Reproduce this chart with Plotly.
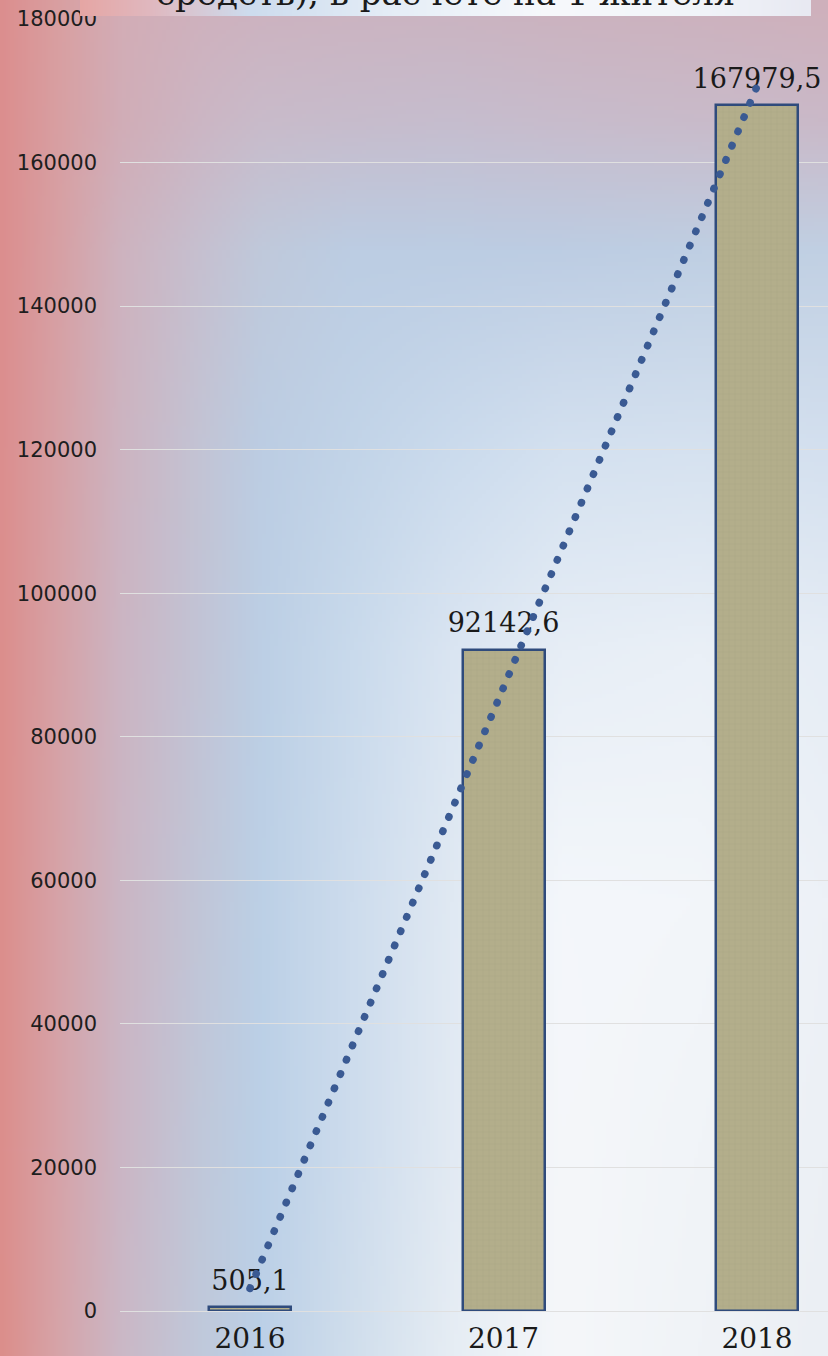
import base64
import struct
import zlib

import numpy as np
import plotly.graph_objects as go

# ---------------- data ----------------
years = ["2016", "2017", "2018"]
values = [505.1, 92142.6, 167979.5]
y_ticks = [0, 20000, 40000, 60000, 80000, 100000, 120000, 140000, 160000, 180000]
title_line = "средств), в расчете на 1 жителя"

W, H = 828, 1356

# ---------------- background gradient (style only) ----------------
bg_xs = [0, 60, 120, 200, 260, 350, 450, 560, 700, 828]
bg_ys = [0, 120, 250, 450, 650, 900, 1150, 1356]
bg_cols = [
    ["#dc8e8e", "#d9a0a2", "#d3adb6", "#cfb1bd", "#cdb2bf", "#ccb3c0", "#cbb3c0", "#ccb2be", "#cdb1bd", "#cfb0bb"],
    ["#dc8e8e", "#d8a0a3", "#d1adb7", "#ccb6c4", "#c9bbca", "#c7bccc", "#c6bdce", "#c8bccc", "#c9bbca", "#cab9c8"],
    ["#dc8e8e", "#d7a1a5", "#ceb3bf", "#c6c0d0", "#c0c9db", "#bccde3", "#bccde3", "#bdcde3", "#bfcfe3", "#c1d0e3"],
    ["#dc8e8e", "#d6a2a7", "#cdb4c1", "#c3c4d5", "#bccde3", "#c2d4e8", "#cbdbed", "#d4e1f0", "#d6e2f0", "#d4e0ef"],
    ["#dc8e8c", "#d6a3a8", "#ccb5c3", "#c2c4d6", "#bccfe5", "#c9daec", "#dae5f2", "#e7eef6", "#eaf0f7", "#e6edf5"],
    ["#dc8e8c", "#d6a4a9", "#cbb6c4", "#c1c6d8", "#bcd0e6", "#cddced", "#e0e9f3", "#f4f7fb", "#f3f6fa", "#edf1f7"],
    ["#dc8e8c", "#d6a4aa", "#cbb6c5", "#c0c8da", "#bbd0e7", "#cddced", "#e2eaf3", "#f5f7fa", "#f1f4f8", "#ecf0f5"],
    ["#dc8e8a", "#d6a5aa", "#cbb8c6", "#c0c9db", "#bcd0e7", "#d0deec", "#e6edf4", "#f5f7fa", "#f0f3f7", "#ebeff4"],
]

box_xs = [0, 70, 170, 320, 470, 620, 731]
box_cols = ["#e6a6a4", "#e0b8bf", "#cddcee", "#e6eef7", "#f7f9fc", "#f1f4f9", "#e8e9f2"]


def hex2rgb(h):
    h = h.lstrip("#")
    return [int(h[i:i + 2], 16) for i in (0, 2, 4)]


def grad_image(xs, ys, grid, width, height, step):
    cols = np.array([[hex2rgb(c) for c in row] for row in grid], float)
    gx = np.arange(0, width, step) + step / 2.0
    gy = np.arange(0, height, step) + step / 2.0
    tmp = np.empty((len(ys), len(gx), 3))
    for i in range(len(ys)):
        for k in range(3):
            tmp[i, :, k] = np.interp(gx, xs, cols[i, :, k])
    out = np.empty((len(gy), len(gx), 3))
    for j in range(len(gx)):
        for k in range(3):
            out[:, j, k] = np.interp(gy, ys, tmp[:, j, k])
    return np.clip(out, 0, 255).astype(np.uint8)


def png_uri(rgb):
    h, w, _ = rgb.shape
    raw = b"".join(b"\x00" + rgb[i].tobytes() for i in range(h))

    def chunk(t, d):
        c = struct.pack(">I", len(d)) + t + d
        return c + struct.pack(">I", zlib.crc32(t + d) & 0xFFFFFFFF)

    png = (b"\x89PNG\r\n\x1a\n"
           + chunk(b"IHDR", struct.pack(">IIBBBBB", w, h, 8, 2, 0, 0, 0))
           + chunk(b"IDAT", zlib.compress(raw, 9))
           + chunk(b"IEND", b""))
    return "data:image/png;base64," + base64.b64encode(png).decode()


bg_img = png_uri(grad_image(bg_xs, bg_ys, bg_cols, W, H, 4))
box_img = png_uri(grad_image(box_xs, [0, 20], [box_cols, box_cols], 731, 20, 1))

# ---------------- figure ----------------
fig = go.Figure()

fig.add_trace(go.Bar(
    x=years,
    y=values,
    width=0.3235,
    marker=dict(
        color="#b3ae8b",
        line=dict(color="#2f4b7c", width=2.5),
        pattern=dict(shape="+", size=6, solidity=0.12, fgcolor="#a19d7b",
                     bgcolor="#b3ae8b", fgopacity=0.7),
    ),
    showlegend=False,
    hoverinfo="skip",
))

# data labels above the bars (invisible markers give the label offset)
fig.add_trace(go.Scatter(
    x=years,
    y=values,
    mode="markers+text",
    marker=dict(size=16, color="rgba(0,0,0,0)"),
    texttemplate="%{y:.1f}",
    textposition="top center",
    cliponaxis=False,
    textfont=dict(family="DejaVu Serif", size=27, color="#1a1a1a"),
    showlegend=False,
    hoverinfo="skip",
))

# linear trendline (least-squares fit of the three bars, like the source)
idx = np.arange(len(values))
slope, intercept = np.polyfit(idx, values, 1)
trend_x = [years[0], years[-1]]
trend_y = [intercept, intercept + slope * idx[-1]]
fig.add_trace(go.Scatter(
    x=trend_x,
    y=trend_y,
    mode="lines",
    line=dict(color="#3a5a93", width=7.5, dash="0.5px,15px"),
    cliponaxis=False,
    showlegend=False,
    hoverinfo="skip",
))

plot_left = 120
cat_c0 = 250
cat_step = 253.5
x_lo = (plot_left - cat_c0) / cat_step
x_hi = x_lo + (W - plot_left) / cat_step

fig.update_layout(
    width=W,
    height=H,
    margin=dict(l=0, r=0, t=0, b=0),
    paper_bgcolor="white",
    plot_bgcolor="rgba(0,0,0,0)",
    separators=",.",
    bargap=0,
    xaxis=dict(
        domain=[plot_left / W, 1],
        range=[x_lo, x_hi],
        type="category",
        showgrid=False,
        showline=False,
        zeroline=False,
        ticks="",
        ticklabelstandoff=8,
        tickfont=dict(family="DejaVu Serif", size=28, color="#1a1a1a"),
        automargin=False,
    ),
    yaxis=dict(
        domain=[45 / H, 1 - 19 / H],
        range=[0, 180000],
        tickvals=y_ticks,
        tickformat="d",
        showgrid=True,
        gridcolor="#e0e0e0",
        gridwidth=1.3,
        zeroline=True,
        zerolinecolor="#e0e0e0",
        zerolinewidth=1.3,
        showline=False,
        ticks="",
        ticklabelstandoff=22,
        tickfont=dict(family="DejaVu Sans", size=21, color="#1e1e1e"),
        automargin=False,
    ),
    images=[
        dict(source=bg_img, xref="paper", yref="paper", x=0, y=1, sizex=1, sizey=1,
             xanchor="left", yanchor="top", sizing="stretch", layer="below"),
        dict(source=box_img, xref="paper", yref="paper", x=80 / W, y=1 + 4 / H,
             sizex=731 / W, sizey=20 / H, xanchor="left", yanchor="top",
             sizing="stretch", layer="above"),
    ],
    annotations=[
        dict(text=title_line, xref="paper", yref="paper", x=445 / W, y=1 - 15 / H,
             xanchor="center", yanchor="bottom", showarrow=False,
             font=dict(family="DejaVu Serif", size=34, color="#1a1a1a")),
    ],
)

post = ("document.body.style.margin='0';document.body.style.overflow='hidden';"
        "document.querySelectorAll('.scatterlayer .js-line').forEach("
        "function(p){p.style.strokeLinecap='round';});")

fig.write_html("out.html", config={"displayModeBar": False}, post_script=post)
